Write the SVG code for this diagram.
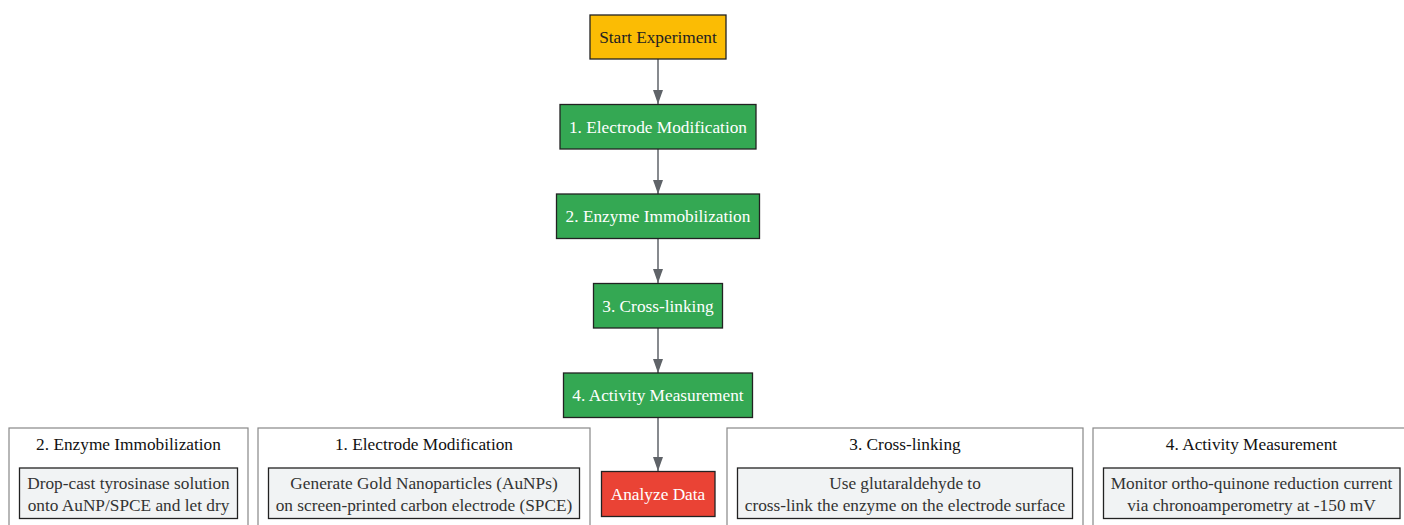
<svg xmlns="http://www.w3.org/2000/svg" width="1404" height="525" viewBox="0 0 1404 525">
<style>
text{font-family:"Liberation Serif","Times New Roman",serif;font-size:17.3px;text-anchor:middle;dominant-baseline:central}
.node rect{stroke:#222;stroke-width:1.3}
.start rect{fill:#fbbc04}
.start text{fill:#222}
.step rect{fill:#34a853}
.step text,.end text{fill:#fff}
.end rect{fill:#ea4335}
.cluster>rect{fill:#fff;stroke:#888;stroke-width:1.2}
.cluster text{fill:#111}
.inner rect{fill:#f1f3f4;stroke:#222;stroke-width:1.3}
.inner text{fill:#333}
.edge{stroke:#5f6368;stroke-width:1.5;fill:none}
</style>
<defs>
<marker id="arr" viewBox="0 0 14 10" refX="14" refY="5" markerWidth="14" markerHeight="10" markerUnits="userSpaceOnUse" orient="auto">
<path d="M0,0 L14,5 L0,10 z" fill="#5f6368"/>
</marker>
</defs>
<rect width="1404" height="525" fill="#fff"/>
<g id="cluster-immobilization" class="cluster">
<rect x="9" y="428" width="239" height="110"/>
<text x="128.5" y="444">2. Enzyme Immobilization</text>
<g class="inner"><rect x="19.5" y="468" width="218" height="50.5"/>
<text x="128.5" y="483">Drop-cast tyrosinase solution</text>
<text x="128.5" y="505">onto AuNP/SPCE and let dry</text></g>
</g>
<g id="cluster-electrode" class="cluster">
<rect x="258" y="428" width="332" height="110"/>
<text x="424" y="444">1. Electrode Modification</text>
<g class="inner"><rect x="268.5" y="468" width="311" height="50.5"/>
<text x="424" y="483">Generate Gold Nanoparticles (AuNPs)</text>
<text x="424" y="505">on screen-printed carbon electrode (SPCE)</text></g>
</g>
<g id="cluster-crosslinking" class="cluster">
<rect x="727" y="428" width="356" height="110"/>
<text x="905" y="444">3. Cross-linking</text>
<g class="inner"><rect x="737.5" y="468" width="335" height="50.5"/>
<text x="905" y="483">Use glutaraldehyde to</text>
<text x="905" y="505">cross-link the enzyme on the electrode surface</text></g>
</g>
<g id="cluster-activity" class="cluster">
<rect x="1093" y="428" width="330" height="110"/>
<text x="1251.5" y="444">4. Activity Measurement</text>
<g class="inner"><rect x="1103.5" y="468" width="296.5" height="50.5"/>
<text x="1251.5" y="483">Monitor ortho-quinone reduction current</text>
<text x="1251.5" y="505">via chronoamperometry at -150 mV</text></g>
</g>
<g id="edges">
<line class="edge" x1="658" y1="59" x2="658" y2="104" marker-end="url(#arr)"/>
<line class="edge" x1="658" y1="149" x2="658" y2="194" marker-end="url(#arr)"/>
<line class="edge" x1="658" y1="238" x2="658" y2="283" marker-end="url(#arr)"/>
<line class="edge" x1="658" y1="328" x2="658" y2="373" marker-end="url(#arr)"/>
<line class="edge" x1="658" y1="417" x2="658" y2="471" marker-end="url(#arr)"/>
</g>
<g id="start" class="node start"><rect x="590" y="15" width="136" height="44"/><text x="658" y="37">Start Experiment</text></g>
<g id="step1" class="node step"><rect x="560" y="104.5" width="196" height="44.5"/><text x="658" y="127">1. Electrode Modification</text></g>
<g id="step2" class="node step"><rect x="556.5" y="194" width="203" height="44.5"/><text x="658" y="216.5">2. Enzyme Immobilization</text></g>
<g id="step3" class="node step"><rect x="593.5" y="283.5" width="129" height="44.5"/><text x="658" y="306">3. Cross-linking</text></g>
<g id="step4" class="node step"><rect x="563.5" y="373" width="189" height="44.5"/><text x="658" y="395.5">4. Activity Measurement</text></g>
<g id="analyze" class="node end"><rect x="601.5" y="471.5" width="113.5" height="45"/><text x="658" y="494">Analyze Data</text></g>
</svg>
